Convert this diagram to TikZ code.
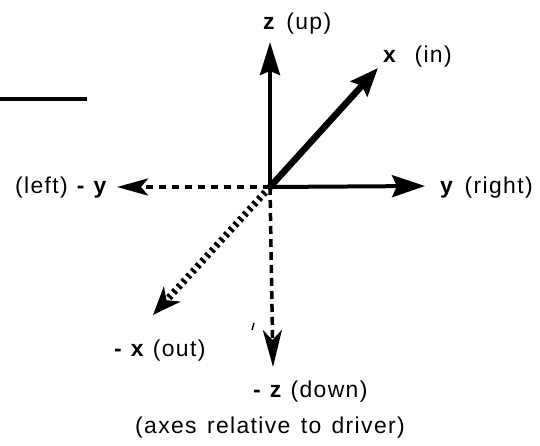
\documentclass[tikz,border=0pt]{standalone}
\usepackage{fontspec}
\setmainfont[LetterSpace=6]{Liberation Sans}
\usetikzlibrary{arrows.meta}
\newcommand\wsp{\hspace{0.45em}}
\begin{document}
\begin{tikzpicture}[x=1bp,y=-1bp,
  lbl/.style={font=\fontsize{23}{27}\selectfont, inner sep=0pt},
  solidax/.style={line width=4bp},
  dashy/.style={line width=4bp, dash pattern=on 7bp off 6bp},
  dotx/.style={line width=7bp, dash pattern=on 3bp off 4bp},
  dashz/.style={line width=3.5bp, dash pattern=on 8bp off 5bp}]
\useasboundingbox (0,0) rectangle (540,446);
\coordinate (o) at (270,187);
\coordinate (zt) at (270,42);
\coordinate (xt) at (378,68);
\coordinate (yt) at (425,186);
\coordinate (myt) at (117,187);
\coordinate (mxt) at (153,315);
\coordinate (mzt) at (273,367);
\coordinate (l1) at (0,99);
\coordinate (l2) at (87,99);
\coordinate (t1) at (254,323);
\coordinate (t2) at (252,330);
% top-left rule
\draw[line width=3.5bp] (l1) -- (l2);
% solid axes
\draw[solidax, -{Stealth[length=33bp,width=20bp,inset=4bp]}] (o) -- (zt);
\draw[line width=6.5bp, -{Stealth[length=28bp,width=22bp,inset=4bp]}] (o) -- (xt);
\draw[solidax, -{Stealth[length=33bp,width=22bp,inset=5bp]}] (o) -- (yt);
% dashed axes
\draw[dashy, -{Stealth[length=31bp,width=17bp,inset=7bp]}] (o) -- (myt);
\draw[dotx, -{Stealth[length=28bp,width=22bp,inset=8bp]}] (o) -- (mxt);
\draw[dashz, -{Stealth[length=37bp,width=19bp,inset=10bp]}] (o) -- (mzt);
\draw[line width=1.5bp] (t1) -- (t2);
% labels
\node[lbl, anchor=base west] (zl) at (263,30) {\textbf{z}\wsp(up)};
\node[lbl, anchor=base west] (xl) at (383,63) {\textbf{x}\hspace{0.75em}(in)};
\node[lbl, anchor=base west] (yl) at (440,194) {\textbf{y}\wsp(right)};
\node[lbl, anchor=base east] (myl) at (108,194) {(left) \textbf{-} \textbf{y}};
\node[lbl, anchor=base west] (mxl) at (114,356) {\textbf{-} \textbf{x} (out)};
\node[lbl, anchor=base west] (mzl) at (253,397) {\textbf{-} \textbf{z} (down)};
\node[lbl, anchor=base] (cap) at (270,433) {(axes\wsp relative\wsp to\wsp driver)};
\end{tikzpicture}
\end{document}
